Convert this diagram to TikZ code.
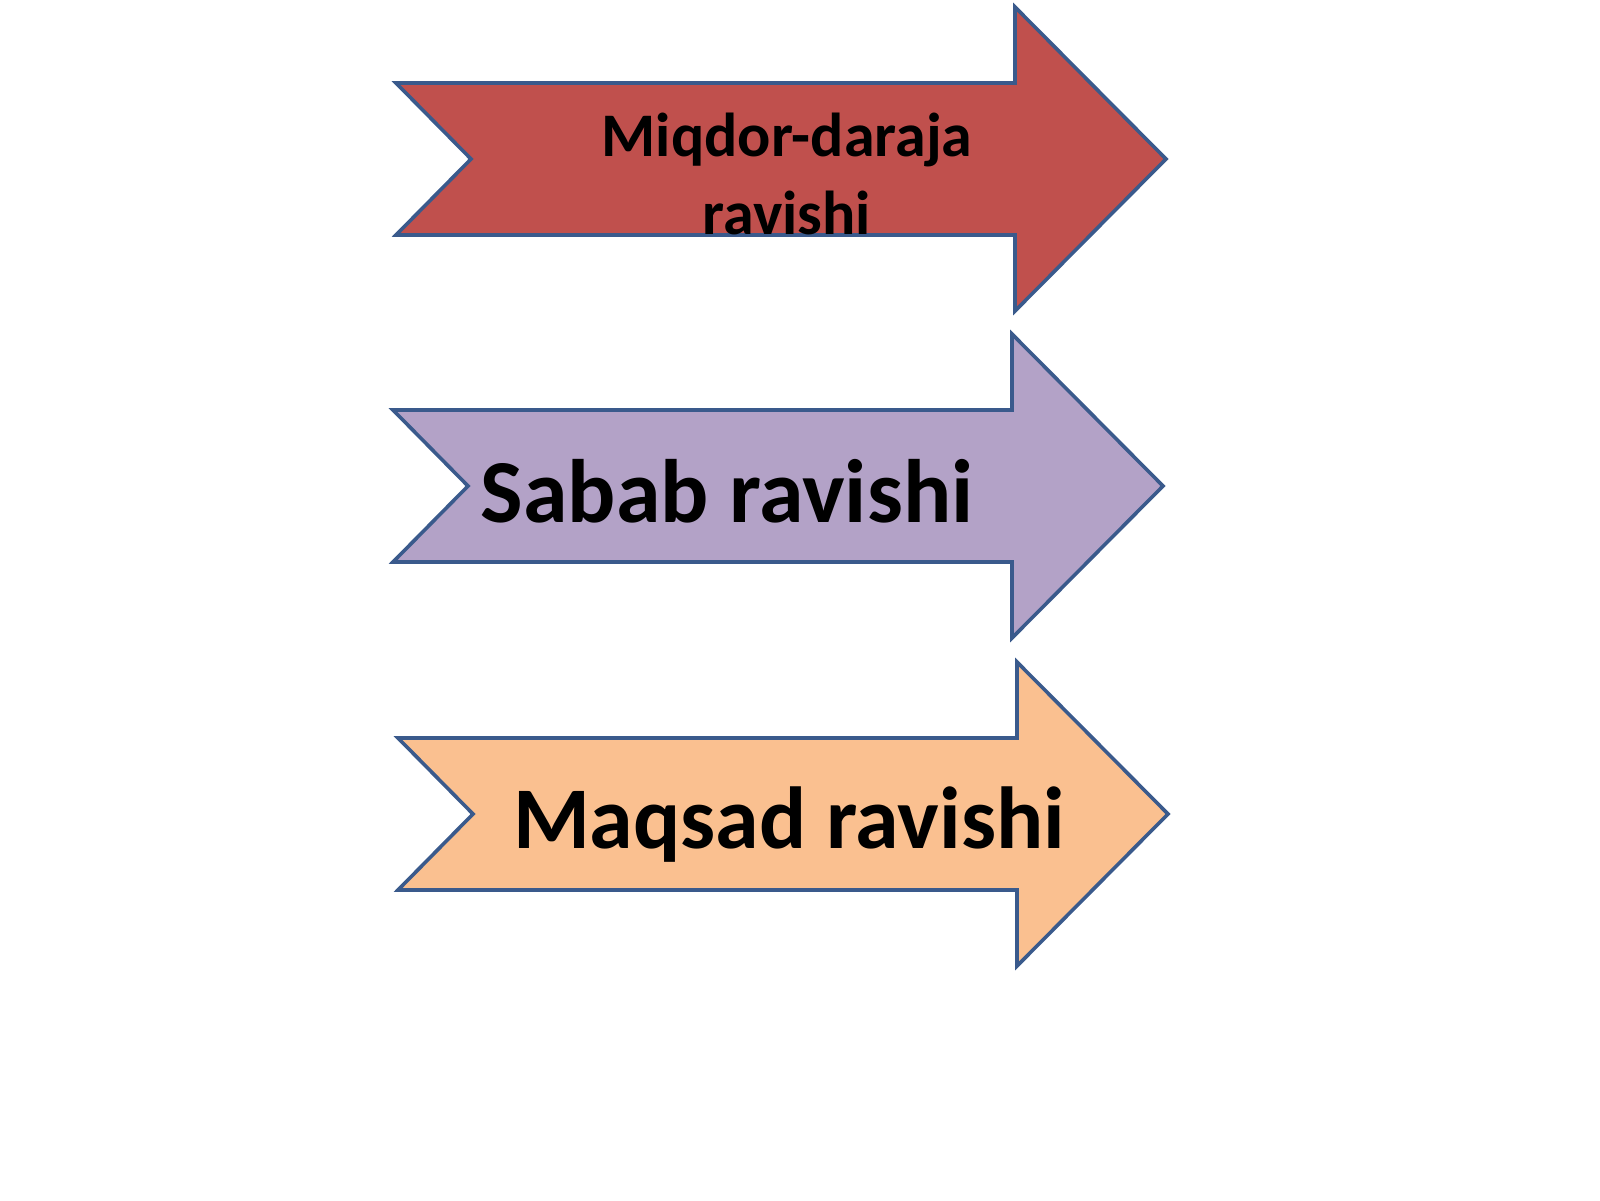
\documentclass[tikz,border=0pt]{standalone}
\usepackage{fontspec}
\setmainfont{Carlito}
\usetikzlibrary{positioning}

\definecolor{miqdorred}{HTML}{C0504D}
\definecolor{sababpurple}{HTML}{B3A2C7}
\definecolor{maqsadorange}{HTML}{FAC090}
\definecolor{ravishline}{HTML}{3A5A8C}

% notched arrow: tail x, middle y (pixel units)
\newcommand{\ravishshape}[2]{(#1,#2-76) -- ++(619,0) -- ++(0,-76) -- ++(151,152)
  -- ++(-151,152) -- ++(0,-76) -- ++(-619,0) -- ++(75,-76) -- cycle}

\tikzset{
  ravish/.style={draw=ravishline, line width=1.8pt, line join=miter},
  ravtext/.style={font=\bfseries, text=black, inner sep=0pt, anchor=base}
}

\begin{document}
\begin{tikzpicture}[x=0.5pt, y=-0.5pt]
    \useasboundingbox (0,0) rectangle (1600,1200);
    \foreach \x/\y/\col in {396/159/miqdorred, 393/486/sababpurple, 398/814/maqsadorange}
      \draw[ravish, fill=\col] \ravishshape{\x}{\y};
\begin{scope}
    \clip \ravishshape{396}{159};
    % base anchor sits on the last line here
    \node[ravtext, font=\fontsize{31}{39}\selectfont\bfseries, align=center] (miqdor) at (787,234) {Miqdor-daraja\\ravishi};
\end{scope}
    \node[ravtext, font=\fontsize{45}{54}\selectfont\bfseries] (sabab) at (727,522) {Sabab ravishi};
    \node[ravtext, font=\fontsize{44}{53}\selectfont\bfseries] (maqsad) at (789,848) {Maqsad ravishi};
\end{tikzpicture}
\end{document}
